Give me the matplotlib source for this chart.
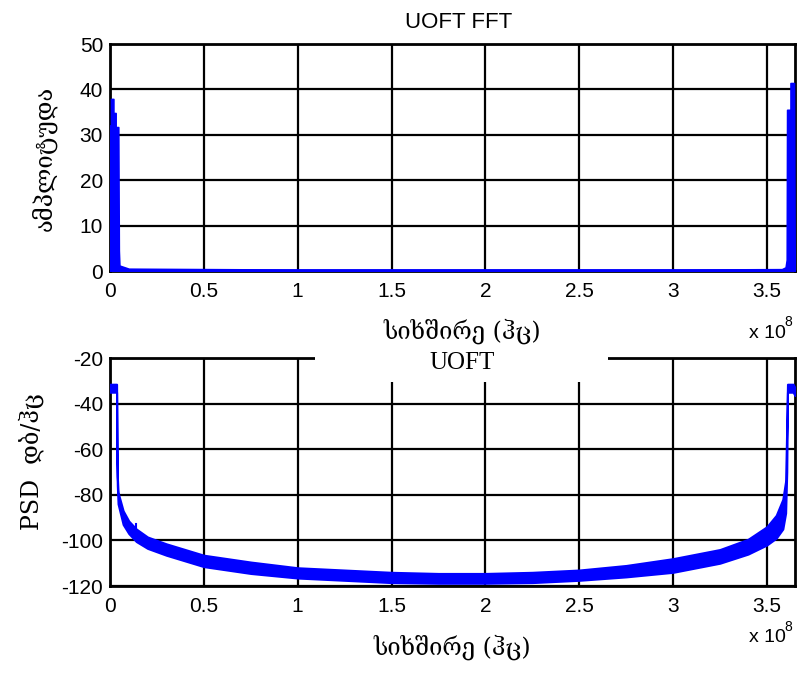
import matplotlib
matplotlib.use("Agg")
import matplotlib.pyplot as plt
from matplotlib.patches import Rectangle

# ---------------- data (frequency in units of 1e8 Hz) ----------------
fft_freq = [0.000, 0.000, 0.005, 0.005, 0.018, 0.018, 0.030, 0.030, 0.044, 0.047,
            0.050, 0.100, 1.000, 2.000, 3.000, 3.580, 3.600, 3.606, 3.608, 3.626,
            3.626, 3.645, 3.648, 3.650]
fft_amp = [0.0, 32.0, 32.0, 37.9, 37.9, 34.8, 34.8, 31.7, 31.7, 4.5,
           1.2, 0.5, 0.3, 0.3, 0.3, 0.4, 0.8, 2.5, 35.5, 35.5,
           41.4, 41.4, 5.0, 0.5]
fft_base_freq = [0.05, 3.60]
fft_base_amp = [0.3, 0.3]

psd_freq = [0.000, 0.035, 0.037, 0.039, 0.043, 0.070, 0.100, 0.140, 0.200, 0.300,
            0.500, 0.750, 1.000, 1.250, 1.500, 1.750, 2.000, 2.250, 2.500, 2.750,
            3.000, 3.250, 3.400, 3.500, 3.550, 3.585, 3.600, 3.606, 3.610, 3.640,
            3.650]
psd_upper = [-31.5, -31.5, -60.0, -72.0, -79.0, -87.0, -91.5, -95.0, -98.5, -101.5,
             -106.5, -109.5, -112.0, -113.0, -114.0, -114.5, -114.5, -114.0, -113.0, -111.0,
             -108.0, -104.0, -99.5, -94.0, -89.0, -82.0, -74.0, -50.0, -31.5, -31.5,
             -33.0]
psd_lower = [-35.0, -35.0, -66.0, -76.0, -84.0, -93.0, -97.0, -100.5, -103.5, -106.5,
             -111.5, -114.5, -116.5, -117.5, -118.5, -118.8, -118.8, -118.5, -117.5, -116.0,
             -114.0, -110.0, -106.0, -102.0, -99.0, -95.0, -88.0, -70.0, -35.0, -35.0,
             -36.5]
spike_freq = [0.140, 0.140]
spike_db = [-97.0, -93.0]

xticks = [0, 0.5, 1, 1.5, 2, 2.5, 3, 3.5]
xtick_labels = ["0", "0.5", "1", "1.5", "2", "2.5", "3", "3.5"]
top_yticks = [0, 10, 20, 30, 40, 50]
bot_yticks = [-120, -100, -80, -60, -40, -20]

title_top = "UOFT FFT"
title_bot = "UOFT"
xlabel = "სიხშირე (ჰც)"
ylabel_top = "ამპლიტუდა"
ylabel_bot = "PSD  დბ/ჰც"

# ---------------- figure ----------------
W, H = 803, 675
fig = plt.figure(figsize=(W / 100, H / 100), dpi=100)
fig.patch.set_facecolor("white")

def fx(px):
    return px / W

def fy(py):
    return 1 - py / H

blue = "#0000ff"
sans = ["Liberation Sans", "DejaVu Sans"]
serif = ["DejaVu Serif", "DejaVu Sans"]
serif_lat = ["Liberation Serif", "DejaVu Serif"]
TICK_FS = 15

ax1 = fig.add_axes([fx(110), fy(271), fx(795) - fx(110), fy(44) - fy(271)])
ax2 = fig.add_axes([fx(110), fy(586), fx(795) - fx(110), fy(358) - fy(586)])

for ax in (ax1, ax2):
    ax.set_xlim(0, 3.65)
    ax.set_xticks(xticks)
    ax.set_xticklabels(xtick_labels, family=sans, fontsize=TICK_FS)
    ax.grid(True, color="black", linewidth=1.6)
    ax.set_axisbelow(True)
    ax.tick_params(direction="in", length=0, pad=8)
    for sp in ax.spines.values():
        sp.set_linewidth(2.0)
        sp.set_color("black")
        sp.set_zorder(2.5)

# top FFT
ax1.set_ylim(0, 50)
ax1.set_yticks(top_yticks)
ax1.set_yticklabels([str(v) for v in top_yticks], family=sans, fontsize=TICK_FS)
ax1.tick_params(axis="y", pad=5)
ax1.fill_between(fft_freq, 0, fft_amp, color=blue, linewidth=1.2, edgecolor=blue, zorder=3)
ax1.plot(fft_base_freq, fft_base_amp, color=blue, linewidth=1.8, zorder=3, clip_on=False)

# bottom PSD
ax2.set_ylim(-120, -20)
ax2.set_yticks(bot_yticks)
ax2.set_yticklabels([str(v) for v in bot_yticks], family=sans, fontsize=TICK_FS)
ax2.tick_params(axis="y", pad=5)
ax2.fill_between(psd_freq, psd_lower, psd_upper, color=blue, linewidth=1.5, edgecolor=blue, zorder=3)
ax2.plot(spike_freq, spike_db, color=blue, linewidth=1.5, zorder=3)

# white box holding bottom title
fig.add_artist(Rectangle((fx(315), fy(382)), fx(608) - fx(315), fy(346) - fy(382),
                         transform=fig.transFigure, facecolor="white", edgecolor="none", zorder=10))

# titles and labels
fig.text(fx(459), fy(22), title_top, family=sans, fontsize=16, ha="center", va="center")
fig.text(fx(462), fy(331), xlabel, family=serif, fontsize=17, ha="center", va="center", zorder=12)
fig.text(fx(452), fy(647), xlabel, family=serif, fontsize=17, ha="center", va="center")
fig.text(fx(44), fy(158), ylabel_top, family=serif, fontsize=17, ha="center", va="center", rotation=90)
fig.text(fx(31), fy(462), ylabel_bot, family=serif, fontsize=17, ha="center", va="center", rotation=90)
fig.text(fx(462), fy(363), title_bot, family=serif_lat, fontsize=18, ha="center", va="center", zorder=11)

# exponent labels
for ybase in (333, 638):
    fig.text(fx(767), fy(ybase), "x 10", family=sans, fontsize=14, ha="center", va="center")
    fig.text(fx(788), fy(ybase - 11), "8", family=sans, fontsize=10, ha="center", va="center")

fig.savefig("out.png", dpi=100, facecolor="white")
